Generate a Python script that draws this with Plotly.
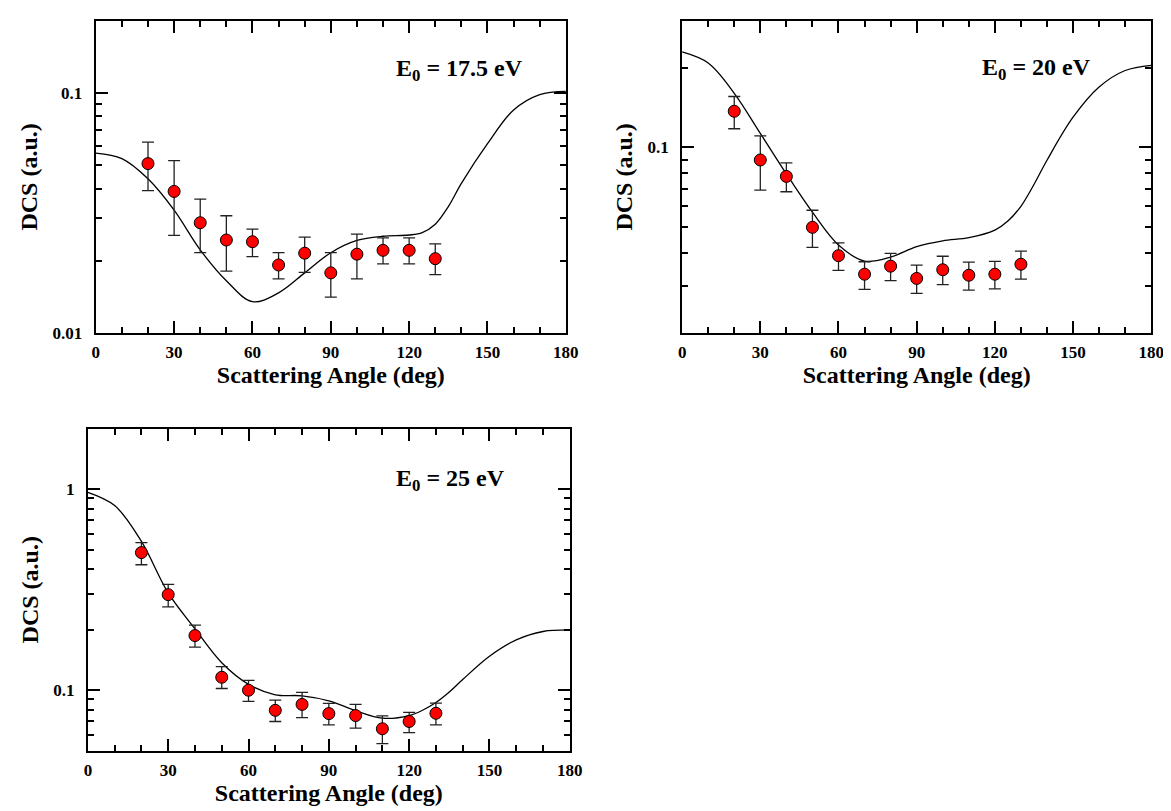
import numpy as np
import plotly.graph_objects as go

# measured angles (deg)
angles_exp = [20, 30, 40, 50, 60, 70, 80, 90, 100, 110, 120, 130]
# theory grid (deg)
angles_th = [0, 10, 20, 30, 40, 50, 60, 70, 80, 90, 100, 110, 120, 125, 130, 135, 140, 150, 160, 170, 180]

# E0 = 17.5 eV
dcs_175 = [0.0508, 0.0389, 0.0288, 0.0244, 0.0240, 0.0192, 0.0215, 0.0178, 0.0213, 0.0221, 0.0221, 0.0204]
dcs_175_hi = [0.0624, 0.0523, 0.0361, 0.0308, 0.0271, 0.0216, 0.0251, 0.0216, 0.0258, 0.0249, 0.0249, 0.0235]
dcs_175_lo = [0.0392, 0.0255, 0.0216, 0.0181, 0.0208, 0.0168, 0.0179, 0.0141, 0.0168, 0.0194, 0.0194, 0.0175]
th_175 = [0.0562, 0.0533, 0.0439, 0.0325, 0.0222, 0.0165, 0.0135, 0.0147, 0.0178, 0.0216, 0.0243, 0.0253,
          0.0256, 0.0262, 0.0284, 0.0336, 0.0420, 0.0615, 0.0850, 0.0985, 0.1016]

# E0 = 20 eV
dcs_20 = [0.1369, 0.0897, 0.0778, 0.0500, 0.0391, 0.0333, 0.0357, 0.0321, 0.0346, 0.0330, 0.0333, 0.0363]
dcs_20_hi = [0.1556, 0.1105, 0.0875, 0.0580, 0.0437, 0.0371, 0.0399, 0.0360, 0.0389, 0.0370, 0.0372, 0.0407]
dcs_20_lo = [0.1176, 0.0690, 0.0681, 0.0420, 0.0344, 0.0292, 0.0315, 0.0282, 0.0304, 0.0290, 0.0293, 0.0319]
th_20 = [0.229, 0.208, 0.160, 0.113, 0.0795, 0.0570, 0.0429, 0.0373, 0.0386, 0.0423, 0.0445, 0.0457,
         0.0488, 0.0528, 0.0600, 0.0725, 0.0895, 0.130, 0.169, 0.195, 0.204]

# E0 = 25 eV
dcs_25 = [0.484, 0.299, 0.187, 0.116, 0.100, 0.0794, 0.0850, 0.0765, 0.0748, 0.0643, 0.0699, 0.0768]
dcs_25_hi = [0.542, 0.336, 0.211, 0.131, 0.112, 0.0893, 0.0975, 0.0860, 0.0850, 0.0745, 0.0776, 0.0863]
dcs_25_lo = [0.421, 0.260, 0.164, 0.102, 0.088, 0.0699, 0.0731, 0.0673, 0.0648, 0.0543, 0.0615, 0.0673]
th_25 = [0.966, 0.830, 0.550, 0.305, 0.202, 0.137, 0.107, 0.0949, 0.0938, 0.0886, 0.0791, 0.0726,
         0.0748, 0.0795, 0.0869, 0.0980, 0.113, 0.1476, 0.178, 0.196, 0.1995]

x_ticks = [0, 30, 60, 90, 120, 150, 180]

W, H = 1171, 811
FONT = "Liberation Serif"

panels = [
    # data, theory, label, x-domain px, y-domain px, y range, major ticks, minor ticks
    dict(y=dcs_175, hi=dcs_175_hi, lo=dcs_175_lo, th=th_175, label="E<sub>0</sub> = 17.5 eV",
         xpx=(85, 562), ypx=(13, 329), yr=(0.01, 0.2),
         major=[0.01, 0.1], minor=[0.02, 0.03, 0.04, 0.05, 0.06, 0.07, 0.08, 0.09, 0.2],
         lab=(388, 63)),
    dict(y=dcs_20, hi=dcs_20_hi, lo=dcs_20_lo, th=th_20, label="E<sub>0</sub> = 20 eV",
         xpx=(680, 1156), ypx=(13, 329), yr=(0.02, 0.3),
         major=[0.1], minor=[0.03, 0.04, 0.05, 0.06, 0.07, 0.08, 0.09, 0.2],
         lab=(982, 62)),
    dict(y=dcs_25, hi=dcs_25_hi, lo=dcs_25_lo, th=th_25, label="E<sub>0</sub> = 25 eV",
         xpx=(77, 566), ypx=(426, 752), yr=(0.05, 2.0),
         major=[0.1, 1], minor=[0.06, 0.07, 0.08, 0.09, 0.2, 0.3, 0.4, 0.5, 0.6, 0.7, 0.8, 0.9],
         lab=(388, 478)),
]

fig = go.Figure()
layout = dict(width=W, height=H, margin=dict(l=0, r=0, t=0, b=0),
              paper_bgcolor="white", plot_bgcolor="white", showlegend=False,
              font=dict(family=FONT, color="black"), annotations=[])

for i, p in enumerate(panels, start=1):
    xa = "x" if i == 1 else f"x{i}"
    ya = "y" if i == 1 else f"y{i}"
    yv = np.array(p["y"])
    up = np.array(p["hi"]) - yv
    dn = yv - np.array(p["lo"])

    fig.add_trace(go.Scatter(x=angles_th, y=p["th"], mode="lines",
                             line=dict(color="black", width=1.3, shape="spline", smoothing=1.0),
                             xaxis=xa, yaxis=ya, hoverinfo="skip"))
    fig.add_trace(go.Scatter(x=angles_exp, y=yv, mode="markers",
                             marker=dict(color="#ff0000", size=12, line=dict(color="black", width=1)),
                             error_y=dict(type="data", symmetric=False, array=up, arrayminus=dn,
                                          color="#222222", thickness=1.3, width=6),
                             xaxis=xa, yaxis=ya))

    x0, x1 = p["xpx"]
    yt, yb = p["ypx"]
    common = dict(showline=True, linecolor="black", linewidth=2, mirror="allticks",
                  ticks="inside", ticklen=12, tickwidth=1.5, tickcolor="black",
                  showgrid=False, zeroline=False,
                  tickfont=dict(family=FONT, size=17, color="black"),
                  title_font=dict(family=FONT, size=24, color="black"))
    layout["xaxis" if i == 1 else f"xaxis{i}"] = dict(
        common, domain=[x0 / W, x1 / W], anchor=ya, range=[0, 180],
        tickvals=x_ticks, ticktext=[f"<b>{t}</b>" for t in x_ticks],
        minor=dict(dtick=10, tick0=0, ticks="inside", ticklen=6, tickwidth=1.5, tickcolor="black"),
        title=dict(text="<b>Scattering Angle (deg)</b>", standoff=5),
        ticklabelstandoff=3)
    layout["yaxis" if i == 1 else f"yaxis{i}"] = dict(
        common, domain=[1 - yb / H, 1 - yt / H], anchor=xa, type="log",
        range=[np.log10(p["yr"][0]), np.log10(p["yr"][1])],
        tickvals=p["major"], ticktext=[f"<b>{t:g}</b>" for t in p["major"]],
        minor=dict(tickvals=p["minor"], ticks="inside", ticklen=6, tickwidth=1.5, tickcolor="black"),
        title=dict(text="<b>DCS (a.u.)</b>", standoff=8),
        ticklabelstandoff=8)
    layout["annotations"].append(dict(
        text=f"<b>{p['label']}</b>", xref="paper", yref="paper",
        x=p["lab"][0] / W, y=1 - p["lab"][1] / H, xanchor="left", yanchor="middle",
        showarrow=False, font=dict(family=FONT, size=24, color="black")))

fig.update_layout(layout)
fig.write_html("out.html")
